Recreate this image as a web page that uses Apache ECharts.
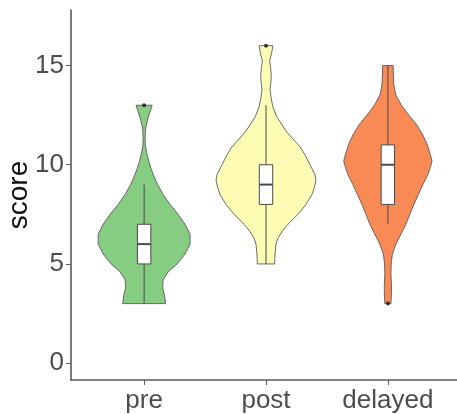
<!DOCTYPE html>
<html>
<head>
<meta charset="utf-8">
<script src="https://cdn.jsdelivr.net/npm/echarts@6/dist/echarts.min.js"></script>
<style>html,body{margin:0;padding:0;background:#fff}#c{width:457px;height:414px}</style>
</head>
<body>
<div id="c"></div>
<script>
// ---- data ----
var categories = ['pre', 'post', 'delayed'];
var yTicks = [0, 5, 10, 15];
var colors = ['#86CC82', '#FFFDB5', '#FA8A55'];

// violin density outlines: score value and half-width (fraction of category slot)
var preY   = [13.0,12.6,12.2,11.8,11.4,11.0,10.6,10.2,9.8,9.4,9.0,8.5,8.0,7.5,7.0,6.5,6.0,5.5,5.0,4.6,4.2,3.8,3.4,3.0];
var preW   = [0.066,0.045,0.025,0.012,0.008,0.010,0.021,0.037,0.057,0.082,0.111,0.156,0.213,0.279,0.336,0.377,0.377,0.336,0.271,0.197,0.156,0.152,0.168,0.176];
var postY  = [16.0,15.6,15.25,14.9,14.6,14.2,13.8,13.4,12.9,12.4,11.7,11.3,10.9,10.5,10.0,9.5,9.2,8.8,8.5,8.0,7.5,7.0,6.7,6.3,6.0,5.5,5.0];
var postW  = [0.057,0.045,0.030,0.037,0.043,0.041,0.033,0.041,0.057,0.090,0.164,0.221,0.279,0.320,0.361,0.402,0.410,0.394,0.377,0.328,0.262,0.180,0.139,0.098,0.082,0.074,0.071];
var delY   = [15.0,14.5,14.0,13.5,13.0,12.5,12.0,11.5,11.0,10.5,10.2,10.0,9.5,9.0,8.5,8.0,7.5,7.0,6.5,6.0,5.5,5.0,4.5,4.0,3.5,3.0];
var delW   = [0.043,0.045,0.049,0.066,0.111,0.172,0.238,0.287,0.324,0.349,0.362,0.355,0.328,0.287,0.250,0.213,0.180,0.148,0.107,0.066,0.037,0.027,0.025,0.029,0.029,0.025];

// box stats: [lower whisker, Q1, median, Q3, upper whisker]
var preBox   = [3, 5, 6, 7, 9];
var postBox  = [5, 8, 9, 10, 13];
var delBox   = [7, 8, 10, 11, 15];
var outliers = [[1, 13], [2, 16], [3, 3]];

// ---- build ----
var profiles = [[preY, preW], [postY, postW], [delY, delW]];
var boxes = [preBox, postBox, delBox];
var font = 'Liberation Sans, Arial, Helvetica, sans-serif';

var chart = echarts.init(document.getElementById('c'), null, {renderer: 'canvas'});

function violinItem(params, api) {
  var i = params.dataIndex;
  var x = api.value(0);
  var ys = profiles[i][0], ws = profiles[i][1];
  var pts = [];
  for (var k = 0; k < ys.length; k++) pts.push(api.coord([x - ws[k], ys[k]]));
  for (var k = ys.length - 1; k >= 0; k--) pts.push(api.coord([x + ws[k], ys[k]]));
  return {
    type: 'polygon',
    shape: {points: pts},
    style: {fill: colors[i], stroke: '#5a5a5a', lineWidth: 0.9}
  };
}

var boxHalf = 0.055;
function boxItem(params, api) {
  var x = api.value(0);
  var lo = api.value(1), q1 = api.value(2), md = api.value(3), q3 = api.value(4), hi = api.value(5);
  var pLo = api.coord([x, lo]), pHi = api.coord([x, hi]);
  var a = api.coord([x - boxHalf, q3]), b = api.coord([x + boxHalf, q1]);
  var m1 = api.coord([x - boxHalf, md]), m2 = api.coord([x + boxHalf, md]);
  var stroke = '#4a4a4a';
  return {
    type: 'group',
    children: [
      {type: 'line', shape: {x1: pLo[0], y1: pLo[1], x2: pHi[0], y2: pHi[1]}, style: {stroke: stroke, lineWidth: 1}},
      {type: 'rect', shape: {x: a[0], y: a[1], width: b[0] - a[0], height: b[1] - a[1]}, style: {fill: '#ffffff', stroke: stroke, lineWidth: 1}},
      {type: 'line', shape: {x1: m1[0], y1: m1[1], x2: m2[0], y2: m2[1]}, style: {stroke: stroke, lineWidth: 2}}
    ]
  };
}

var violinData = categories.map(function (c, i) { return [i + 1]; });
var boxData = boxes.map(function (b, i) { return [i + 1].concat(b); });

chart.setOption({
  animation: false,
  backgroundColor: '#ffffff',
  grid: {left: 71, right: -4, top: 10, bottom: 34, containLabel: false, outerBoundsMode: 'none'},
  xAxis: {
    type: 'value', min: 0.4, max: 3.6,
    axisLine: {show: true, onZero: false, lineStyle: {color: '#5a5a5a', width: 1.6}},
    axisTick: {show: true, length: 5, lineStyle: {color: '#5a5a5a', width: 1}, customValues: [1, 2, 3]},
    axisLabel: {
      customValues: [1, 2, 3], margin: 8, fontSize: 26, color: '#4d4d4d', fontFamily: font,
      formatter: function (v) { return categories[Math.round(v) - 1]; }
    },
    splitLine: {show: false}
  },
  yAxis: {
    type: 'value', min: -0.85, max: 17.8,
    name: 'score', nameLocation: 'middle', nameGap: 38, nameRotate: 90, nameMoveOverlap: false,
    nameTextStyle: {fontSize: 28, color: '#111', fontFamily: font},
    axisLine: {show: true, onZero: false, lineStyle: {color: '#5a5a5a', width: 1.6}},
    axisTick: {show: true, length: 5, lineStyle: {color: '#5a5a5a', width: 1}, customValues: yTicks},
    axisLabel: {customValues: yTicks, margin: 7, fontSize: 26, color: '#4d4d4d', fontFamily: font},
    splitLine: {show: false}
  },
  series: [
    {type: 'custom', renderItem: violinItem, data: violinData, encode: {x: 0}, z: 1},
    {type: 'custom', renderItem: boxItem, data: boxData, encode: {x: 0, y: [1, 2, 3, 4, 5]}, z: 2},
    {type: 'scatter', data: outliers, symbol: 'circle', symbolSize: 4, itemStyle: {color: '#111'}, z: 3}
  ]
});
</script>
</body>
</html>
